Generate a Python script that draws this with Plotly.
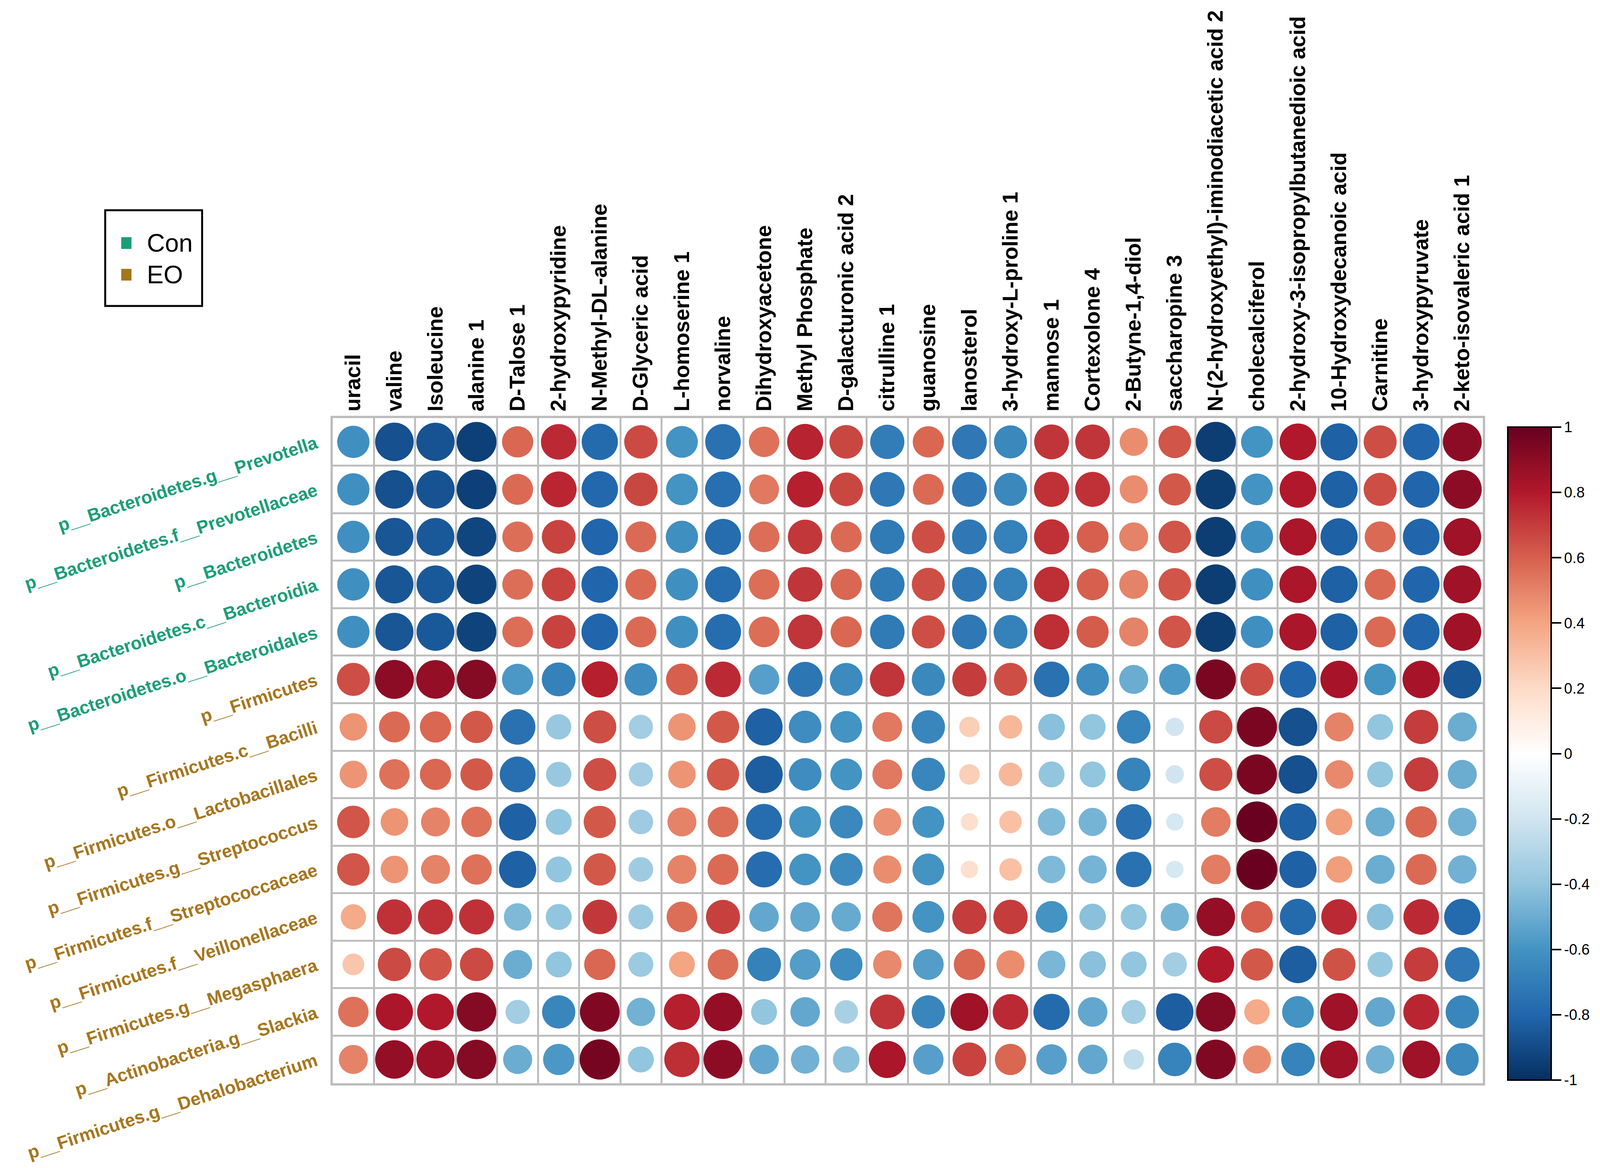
import numpy as np
import plotly.graph_objects as go

metabolites = ["uracil", "valine", "Isoleucine", "alanine 1", "D-Talose 1", "2-hydroxypyridine",
               "N-Methyl-DL-alanine", "D-Glyceric acid", "L-homoserine 1", "norvaline",
               "Dihydroxyacetone", "Methyl Phosphate", "D-galacturonic acid 2", "citrulline 1",
               "guanosine", "lanosterol", "3-hydroxy-L-proline 1", "mannose 1", "Cortexolone 4",
               "2-Butyne-1,4-diol", "saccharopine 3", "N-(2-hydroxyethyl)-iminodiacetic acid 2",
               "cholecalciferol", "2-hydroxy-3-isopropylbutanedioic acid", "10-Hydroxydecanoic acid",
               "Carnitine", "3-hydroxypyruvate", "2-keto-isovaleric acid 1"]

taxa = ["p__Bacteroidetes.g__Prevotella", "p__Bacteroidetes.f__Prevotellaceae", "p__Bacteroidetes",
        "p__Bacteroidetes.c__Bacteroidia", "p__Bacteroidetes.o__Bacteroidales", "p__Firmicutes",
        "p__Firmicutes.c__Bacilli", "p__Firmicutes.o__Lactobacillales", "p__Firmicutes.g__Streptococcus",
        "p__Firmicutes.f__Streptococcaceae", "p__Firmicutes.f__Veillonellaceae",
        "p__Firmicutes.g__Megasphaera", "p__Actinobacteria.g__Slackia", "p__Firmicutes.g__Dehalobacterium"]

taxa_group = ["Con", "Con", "Con", "Con", "Con", "EO", "EO", "EO", "EO", "EO", "EO", "EO", "EO", "EO"]

# correlation of each taxon (row) with the metabolites (columns)
prevotella = [-0.62, -0.88, -0.87, -0.94, 0.58, 0.75, -0.78, 0.66, -0.60, -0.75, 0.55, 0.77, 0.67, -0.70,
              0.58, -0.72, -0.65, 0.72, 0.72, 0.47, 0.63, -0.95, -0.60, 0.80, -0.82, 0.65, -0.80, 0.90]
prevotellaceae = [-0.62, -0.88, -0.87, -0.94, 0.57, 0.76, -0.79, 0.67, -0.60, -0.76, 0.53, 0.78, 0.67, -0.72,
                  0.57, -0.72, -0.65, 0.73, 0.73, 0.47, 0.62, -0.95, -0.60, 0.80, -0.82, 0.65, -0.80, 0.90]
bacteroidetes = [-0.62, -0.86, -0.85, -0.92, 0.56, 0.68, -0.80, 0.57, -0.62, -0.77, 0.56, 0.71, 0.57, -0.71,
                 0.65, -0.72, -0.68, 0.73, 0.60, 0.50, 0.63, -0.95, -0.62, 0.82, -0.82, 0.57, -0.80, 0.85]
bacteroidia = [-0.62, -0.86, -0.85, -0.93, 0.56, 0.68, -0.80, 0.57, -0.62, -0.77, 0.56, 0.72, 0.58, -0.71,
               0.65, -0.72, -0.68, 0.74, 0.60, 0.50, 0.63, -0.95, -0.62, 0.82, -0.82, 0.57, -0.80, 0.85]
bacteroidales = [-0.62, -0.86, -0.85, -0.93, 0.56, 0.68, -0.80, 0.57, -0.62, -0.77, 0.56, 0.72, 0.58, -0.71,
                 0.65, -0.72, -0.68, 0.74, 0.61, 0.50, 0.63, -0.95, -0.62, 0.82, -0.82, 0.57, -0.80, 0.85]
firmicutes = [0.65, 0.90, 0.88, 0.92, -0.58, -0.68, 0.78, -0.63, 0.60, 0.75, -0.55, -0.73, -0.64, 0.72,
              -0.65, 0.70, 0.65, -0.75, -0.63, -0.50, -0.58, 0.95, 0.65, -0.80, 0.83, -0.60, 0.83, -0.86]
bacilli = [0.45, 0.57, 0.58, 0.62, -0.75, -0.38, 0.65, -0.35, 0.45, 0.62, -0.82, -0.63, -0.60, 0.53,
           -0.66, 0.25, 0.33, -0.42, -0.40, -0.67, -0.20, 0.66, 0.95, -0.88, 0.50, -0.40, 0.70, -0.50]
lactobacillales = [0.45, 0.55, 0.58, 0.62, -0.76, -0.38, 0.65, -0.35, 0.45, 0.62, -0.83, -0.63, -0.60, 0.53,
                   -0.66, 0.25, 0.33, -0.40, -0.40, -0.67, -0.20, 0.65, 0.95, -0.88, 0.48, -0.40, 0.70, -0.50]
streptococcus = [0.63, 0.45, 0.50, 0.55, -0.82, -0.40, 0.62, -0.36, 0.50, 0.56, -0.77, -0.60, -0.65, 0.46,
                 -0.60, 0.18, 0.30, -0.45, -0.47, -0.75, -0.18, 0.52, 0.99, -0.82, 0.42, -0.50, 0.58, -0.48]
streptococcaceae = [0.63, 0.45, 0.50, 0.55, -0.82, -0.40, 0.62, -0.36, 0.50, 0.57, -0.77, -0.60, -0.64, 0.47,
                    -0.60, 0.18, 0.30, -0.45, -0.47, -0.75, -0.18, 0.52, 0.99, -0.82, 0.42, -0.50, 0.57, -0.48]
veillonellaceae = [0.38, 0.73, 0.73, 0.73, -0.45, -0.40, 0.71, -0.37, 0.56, 0.69, -0.52, -0.52, -0.51, 0.54,
                   -0.60, 0.70, 0.70, -0.60, -0.42, -0.40, -0.47, 0.88, 0.60, -0.78, 0.75, -0.42, 0.75, -0.78]
megasphaera = [0.28, 0.66, 0.63, 0.66, -0.50, -0.40, 0.58, -0.37, 0.40, 0.56, -0.68, -0.56, -0.63, 0.48,
               -0.56, 0.58, 0.47, -0.46, -0.42, -0.40, -0.35, 0.80, 0.62, -0.83, 0.64, -0.38, 0.70, -0.72]
slackia = [0.55, 0.82, 0.80, 0.92, -0.35, -0.66, 0.93, -0.48, 0.78, 0.88, -0.40, -0.52, -0.33, 0.72,
           -0.66, 0.85, 0.75, -0.78, -0.52, -0.35, -0.83, 0.92, 0.38, -0.60, 0.85, -0.52, 0.76, -0.66]
dehalobacterium = [0.50, 0.88, 0.86, 0.92, -0.50, -0.58, 0.96, -0.40, 0.74, 0.90, -0.52, -0.48, -0.42, 0.82,
                   -0.55, 0.68, 0.58, -0.55, -0.52, -0.25, -0.67, 0.93, 0.47, -0.67, 0.85, -0.48, 0.85, -0.64]

corr_rows = [prevotella, prevotellaceae, bacteroidetes, bacteroidia, bacteroidales, firmicutes, bacilli,
             lactobacillales, streptococcus, streptococcaceae, veillonellaceae, megasphaera, slackia,
             dehalobacterium]

cbar_ticks = [-1, -0.8, -0.6, -0.4, -0.2, 0, 0.2, 0.4, 0.6, 0.8, 1]
cbar_labels = ["-1", "-0.8", "-0.6", "-0.4", "-0.2", "0", "0.2", "0.4", "0.6", "0.8", "1"]

group_colors = {"Con": "#1B9E77", "EO": "#A6761D"}

# corrplot COL2('RdBu')
rdbu = ["#053061", "#2166AC", "#4393C3", "#92C5DE", "#D1E5F0", "#FFFFFF",
        "#FDDBC7", "#F4A582", "#D6604D", "#B2182B", "#67001F"]
colorscale = [[i / (len(rdbu) - 1), c] for i, c in enumerate(rdbu)]

# the page is 4096x2989, the original layout was drawn on 4689x2989
FW, FH = 4080, 2973
SX, SY, OFF = 4096 / 4689, 1.0, 8


def fx(x):
    return x * SX - OFF


def fy(y):
    return y * SY - OFF


L, T = fx(975), fy(1070)
R, B = FW - fx(4345), FH - fy(2772)
PW, PH = FW - L - R, FH - T - B

corr = np.array(corr_rows)
nr, nc = corr.shape
cell = np.sqrt((PW / nc) * (PH / nr))

xs, ys = np.meshgrid(np.arange(nc), np.arange(nr))
vals = corr.ravel()
sizes = 0.93 * cell * np.sqrt(np.abs(vals))

font = "Liberation Sans"

fig = go.Figure()
fig.add_trace(go.Scatter(
    x=xs.ravel(), y=ys.ravel(), mode="markers",
    marker=dict(symbol="circle", size=sizes, color=vals, colorscale=colorscale, cmin=-1, cmax=1,
                opacity=1, line=dict(width=0),
                colorbar=dict(x=(fx(4418) - L) / PW, xanchor="left", xpad=0,
                              y=1 - ((fy(1083) + fy(2774)) / 2 - T) / PH, yanchor="middle",
                              len=(fy(2774) - fy(1083)) / PH, lenmode="fraction",
                              thickness=(4545 - 4418) * SX, thicknessmode="pixels",
                              outlinecolor="black", outlinewidth=4,
                              tickvals=cbar_ticks, ticktext=cbar_labels, ticks="outside",
                              ticklen=24, tickwidth=4, tickcolor="black",
                              tickfont=dict(family=font, size=38, color="black"))),
    hovertext=[f"{taxa[i]} / {metabolites[j]}: {corr[i, j]:.2f}" for i in range(nr) for j in range(nc)],
    hoverinfo="text", showlegend=False,
))

row_text = [f'<span style="color:{group_colors[g]}">{t}</span>' for t, g in zip(taxa, taxa_group)]

grid = dict(showgrid=True, gridcolor="#BEBEBE", gridwidth=5, tickmode="linear", tick0=0.5, dtick=1, ticks="")

fig.update_xaxes(range=[-0.5, nc - 0.5], side="top", tickmode="array", tickvals=list(range(nc)),
                 ticktext=metabolites, tickangle=-90, showgrid=False, zeroline=False,
                 showline=True, mirror=True, linecolor="#BEBEBE", linewidth=6, ticks="",
                 ticklabelstandoff=0, ticklabeloverflow="allow", minor=grid,
                 tickfont=dict(family=font, size=55, color="black", weight="bold"))
fig.update_yaxes(range=[nr - 0.5, -0.5], tickmode="array", tickvals=list(range(nr)),
                 ticktext=row_text, tickangle=-18, showgrid=False, zeroline=False,
                 showline=True, mirror=True, linecolor="#BEBEBE", linewidth=6, ticks="",
                 ticklabelstandoff=28, ticklabeloverflow="allow", minor=grid,
                 tickfont=dict(family=font, size=46, weight="bold"))


def px(x):
    return (fx(x) - L) / PW


def py(y):
    return 1 - (fy(y) - T) / PH


# group legend box
shapes = [dict(type="rect", xref="paper", yref="paper", x0=px(308), x1=px(592), y0=py(538), y1=py(783),
               line=dict(color="black", width=5), fillcolor="white")]
annotations = []
for k, g in enumerate(["Con", "EO"]):
    yc = 622 + 81 * k
    shapes.append(dict(type="rect", xref="paper", yref="paper", x0=px(355), x1=px(385),
                       y0=py(yc - 15), y1=py(yc + 15), line=dict(width=0), fillcolor=group_colors[g]))
    annotations.append(dict(xref="paper", yref="paper", x=px(428), y=py(yc), text=g, showarrow=False,
                            xanchor="left", yanchor="middle",
                            font=dict(family=font, size=64, color="black")))

fig.update_layout(width=FW, height=FH, margin=dict(l=L, r=R, t=T, b=B, autoexpand=False),
                  paper_bgcolor="white", plot_bgcolor="white", shapes=shapes, annotations=annotations,
                  showlegend=False)

fig.write_html("out.html")
